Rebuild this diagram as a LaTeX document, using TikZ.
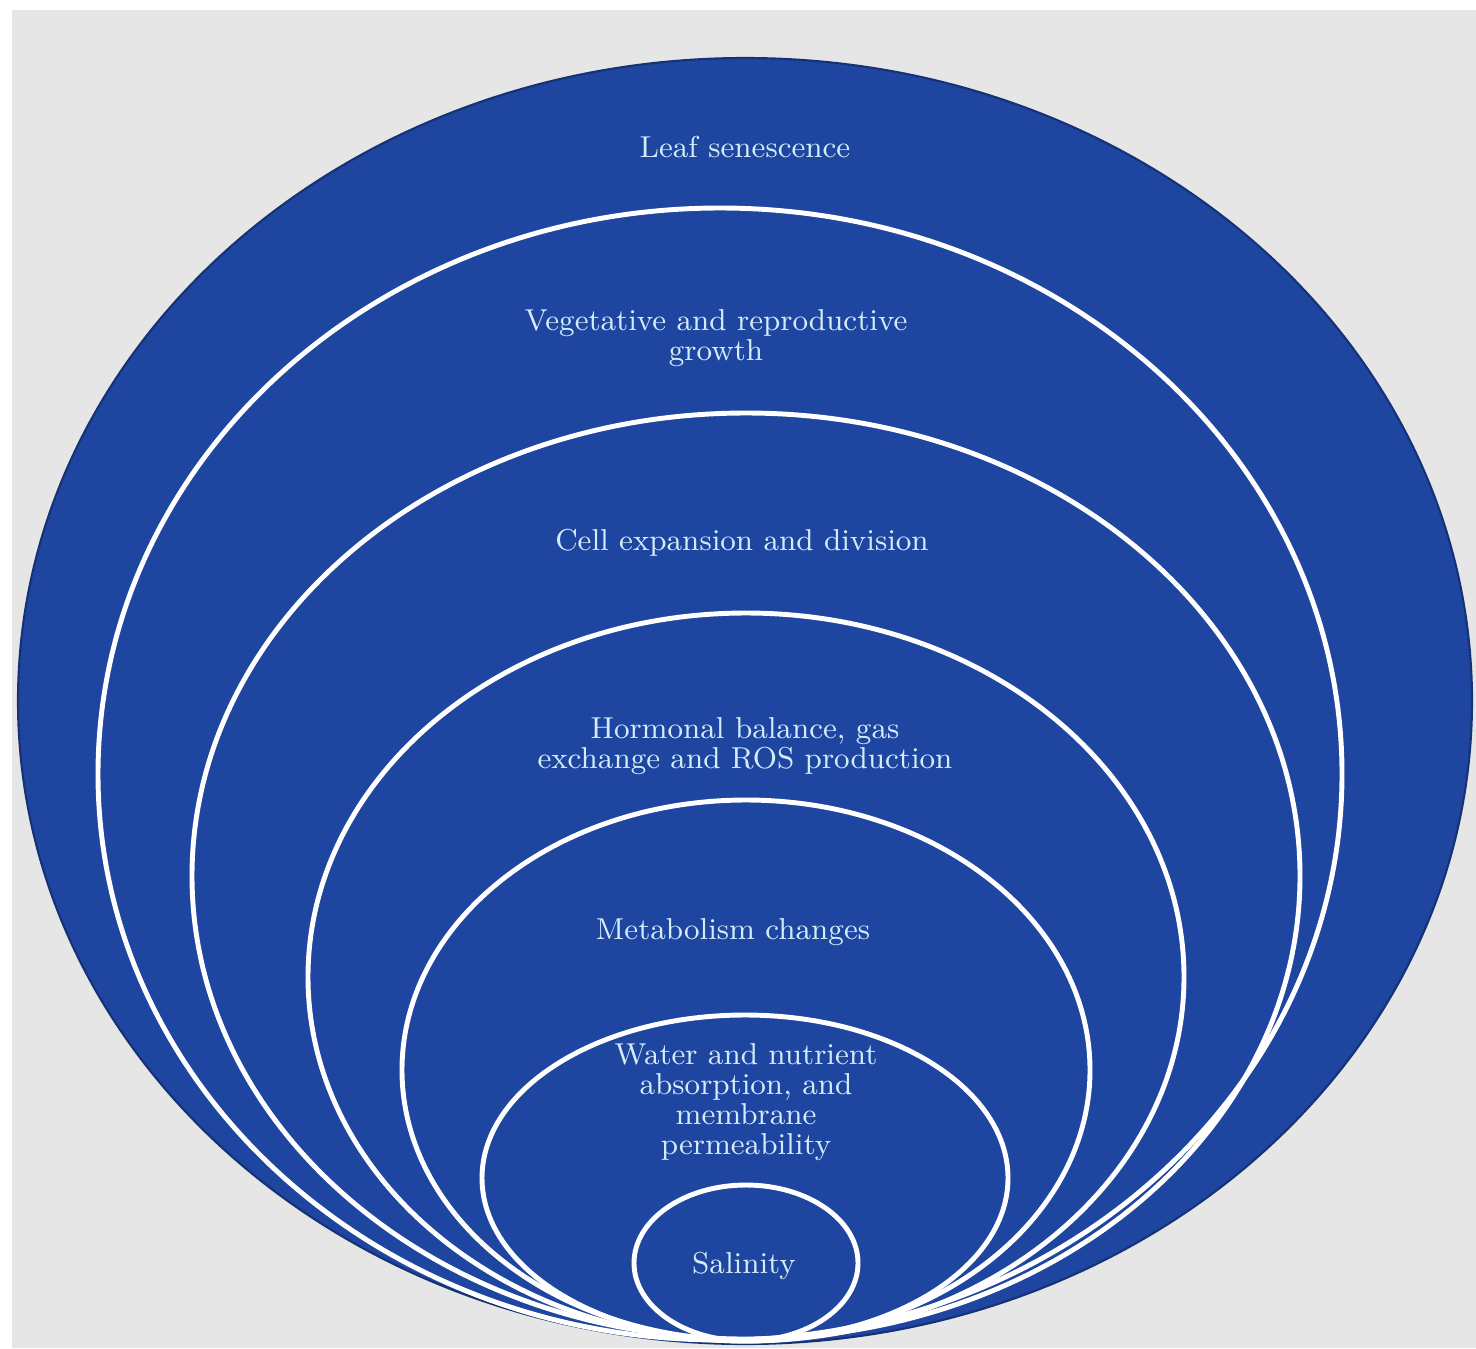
\documentclass[tikz,border=0pt]{standalone}
\usepackage{tikz}
\usepackage{xcolor}
\definecolor{ringblue}{RGB}{30,70,160}
\definecolor{rimblue}{RGB}{22,50,118}
\definecolor{labeltxt}{RGB}{212,236,250}
\definecolor{backgrey}{RGB}{230,230,230}

\begin{document}
\begin{tikzpicture}[x=0.01cm,y=-0.01cm,
		ring/.style={draw=white,line width=1.4pt},
		lbl/.style={text=labeltxt,align=center,inner sep=0pt,font=\fontsize{8.6}{8.6}\selectfont}]
				
				\useasboundingbox (0,0) rectangle (1476,1348);
				\fill[white] (0,0) rectangle (1476,1348);
				\fill[backgrey] (12,10) rectangle (1476,1348);
				
				% outer disc and the nested rings
				\draw[fill=ringblue,draw=rimblue,line width=.6pt] (745,701) ellipse (727 and 643);
				\draw[ring] (720,774) ellipse (622 and 566);
				\draw[ring] (746,876) ellipse (554 and 463);
				\draw[ring] (746,977) ellipse (438 and 364);
				\draw[ring] (746,1070) ellipse (344 and 270);
				\draw[ring] (745,1178) ellipse (263 and 163);
				\draw[ring] (746,1263) ellipse (112 and 78);
				
				\node[lbl] (leaf) at (745,147) {Leaf senescence};
				\node[lbl] (growth) at (716,338) {Vegetative and reproductive\\growth};
				\node[lbl] (cell) at (742,543) {Cell expansion and division};
				\node[lbl] (hormone) at (745,746) {Hormonal balance, gas\\exchange and ROS production};
				\node[lbl] (metab) at (733,932) {Metabolism changes};
				\node[lbl] (water) at (746,1102) {Water and nutrient\\absorption, and\\membrane\\permeability};
				\node[lbl] (salt) at (744,1266) {Salinity};
			\end{tikzpicture}
\end{document}
